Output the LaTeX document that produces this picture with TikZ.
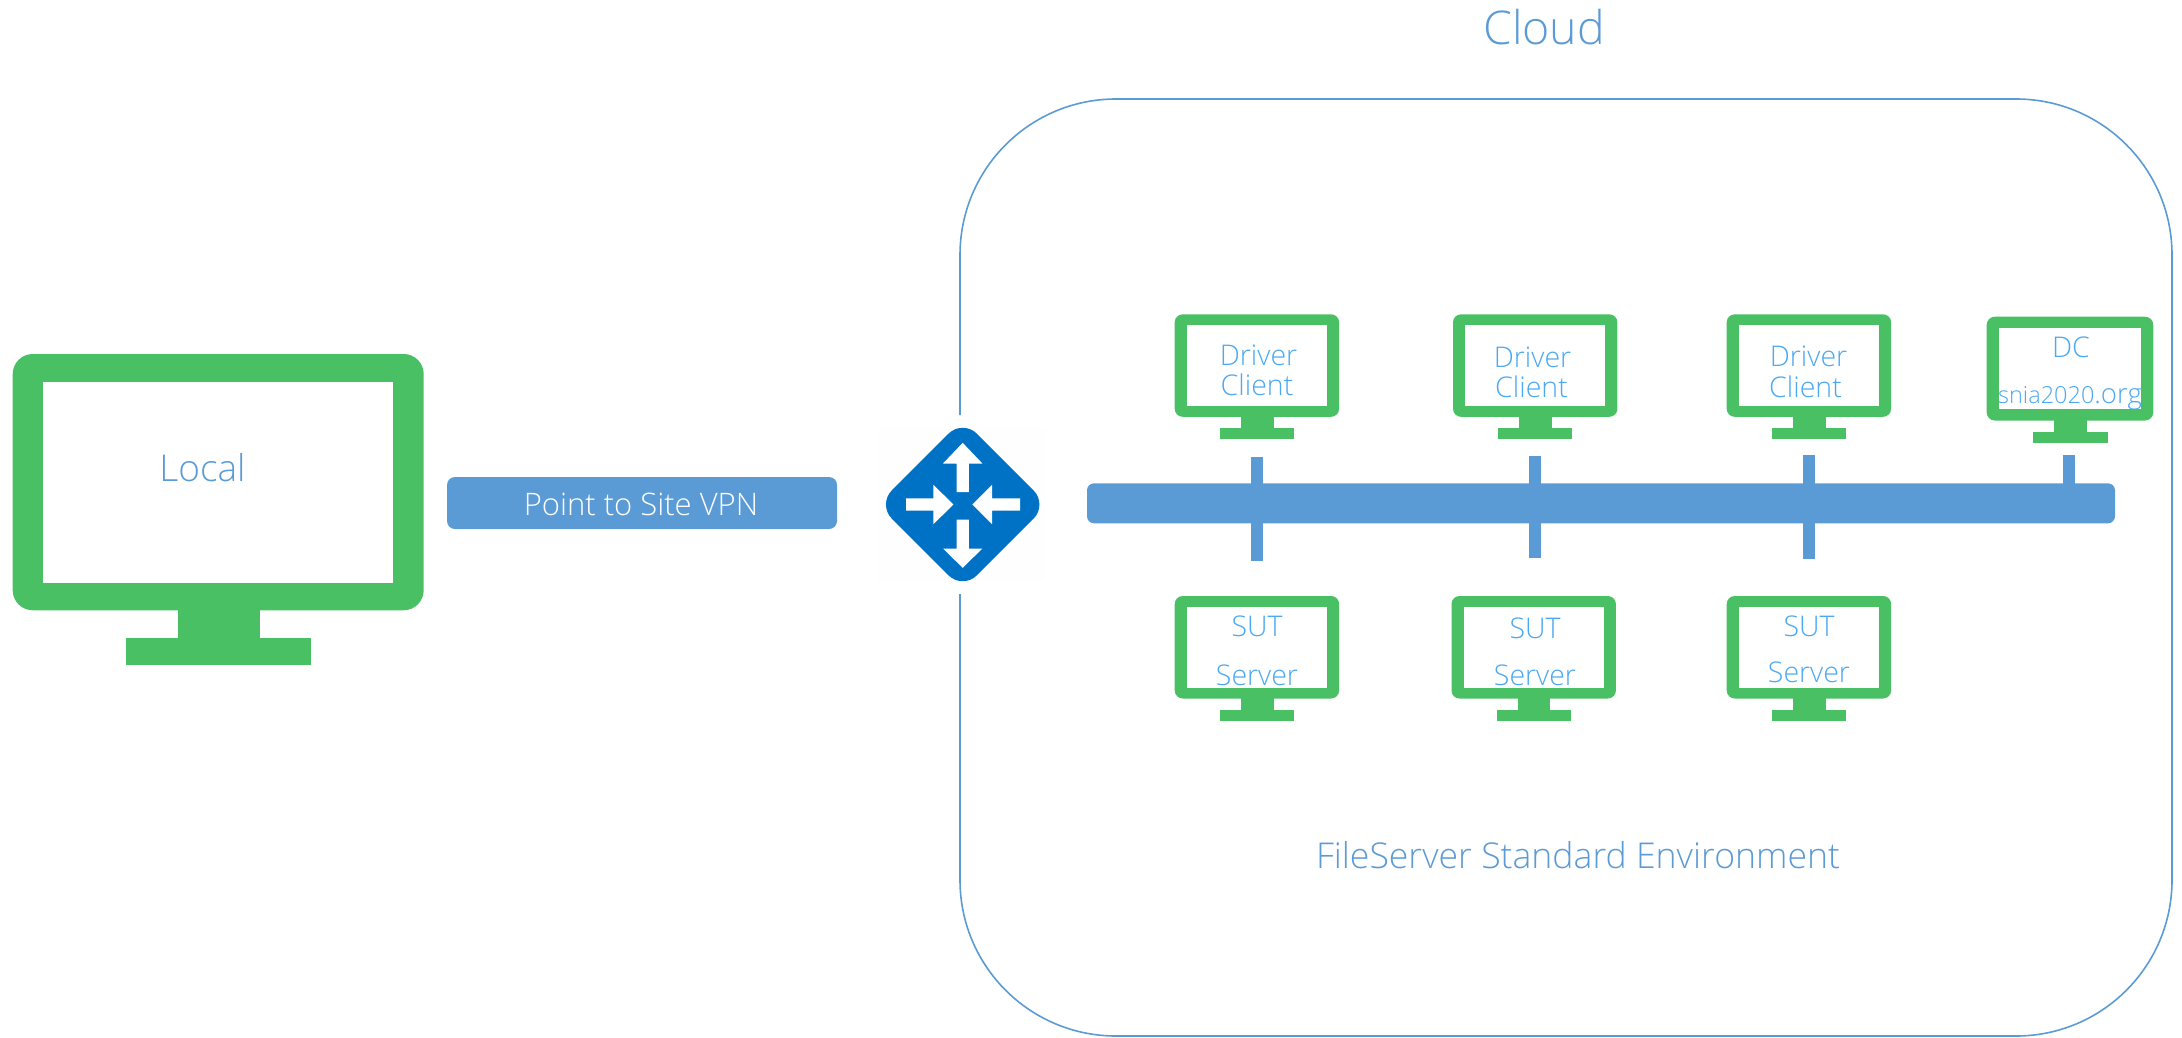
\documentclass[tikz,border=0pt]{standalone}
\usepackage{fontspec}
\setmainfont{Open Sans Light}
\definecolor{mongreen}{HTML}{4AC065}
\definecolor{azure}{HTML}{5B9BD5}
\definecolor{router}{HTML}{0072C6}
\definecolor{smalltxt}{HTML}{4CA8F0}
\tikzset{
  x=1pt,y=-1pt,
  bigtxt/.style={text=azure,anchor=base,inner sep=0pt,font=\fontsize{37}{37}\selectfont},
  labeltxt/.style={text=smalltxt,anchor=base,inner sep=0pt,font=\fontsize{28.5}{29}\selectfont},
  tickbar/.style={draw=azure,line width=12pt},
  busbar/.style={fill=azure,rounded corners=7pt},
  cloudline/.style={draw=azure,line width=1.6pt},
  arrowwhite/.style={fill=white},
}
\newcommand{\monitor}[3]{%
  \begin{scope}[shift={(#1,#2)},scale=#3,x=1pt,y=-1pt]
    \fill[mongreen,rounded corners=8pt*#3]
      (0,0) -- (164.4,0) -- (164.4,102.5) -- (0,102.5) -- cycle;
    \fill[white] (12.3,11) rectangle (152,91.5);
    \fill[mongreen] (66,102) rectangle (98.8,114);
    \fill[mongreen] (45.3,113.5) rectangle (119.3,124.5);
  \end{scope}}
\begin{document}
\begin{tikzpicture}
\useasboundingbox (0,0) rectangle (2182,1037);
% cloud outline
\coordinate (gapTop) at (960,415);
\coordinate (gapBot) at (960,594);
\draw[cloudline,rounded corners=156pt] (gapTop) -- (960,99) -- (2172,99) -- (2172,1036) -- (960,1036) -- (gapBot);
\node[bigtxt,font=\fontsize{46.5}{46}\selectfont] (cloud) at (1544,44) {Cloud};
\node[bigtxt,font=\fontsize{35.6}{36}\selectfont] (fsenv) at (1578,868) {FileServer Standard Environment};
% local
\monitor{12.7}{354}{2.5}
\node[bigtxt] (local) at (202.5,481) {Local};
% vpn
\node[fill=azure,rounded corners=8pt,minimum width=390pt,minimum height=52pt,inner sep=0pt] (vpn) at (642,503) {};
\node[text=white,inner sep=0pt,anchor=base,font=\fontsize{31}{31}\selectfont] (vpntxt) at (641,515) {Point to Site VPN};
% router
\fill[fill=white!99.5!black] (877,428) rectangle (1045,581);
\begin{scope}[shift={(962.7,504.5)}]
  \coordinate (rc) at (0,0);
  \fill[router,rounded corners=20pt] (0,-85) -- (85,0) -- (0,85) -- (-85,0) -- cycle;
  \fill[arrowwhite] (0,-61.7) -- (19.7,-41) -- (6.2,-41) -- (6.2,-12.3) -- (-6.2,-12.3) -- (-6.2,-41) -- (-19.7,-41) -- cycle;
  \fill[arrowwhite] (0,63.3) -- (19.7,44) -- (6.2,44) -- (6.2,15) -- (-6.2,15) -- (-6.2,44) -- (-19.7,44) -- cycle;
  \fill[arrowwhite] (-9.3,0) -- (-29.3,-19.7) -- (-29.3,-6.2) -- (-56.7,-6.2) -- (-56.7,6.2) -- (-29.3,6.2) -- (-29.3,19.7) -- cycle;
  \fill[arrowwhite] (9.7,0) -- (29.3,-19.7) -- (29.3,-6.2) -- (57.3,-6.2) -- (57.3,6.2) -- (29.3,6.2) -- (29.3,19.7) -- cycle;
\end{scope}
% bus
\node[busbar,minimum width=1028pt,minimum height=40pt,inner sep=0pt] (bus) at (1601,503.3) {};
\coordinate (t1a) at (1257,457); \coordinate (t1b) at (1257,561);
\coordinate (t2a) at (1535,456); \coordinate (t2b) at (1535,558);
\coordinate (t3a) at (1809,455); \coordinate (t3b) at (1809,558.7);
\coordinate (t4a) at (2069,455); \coordinate (t4b) at (2069,484);
\draw[tickbar] (t1a) -- (t1b);
\draw[tickbar] (t2a) -- (t2b);
\draw[tickbar] (t3a) -- (t3b);
\draw[tickbar] (t4a) -- (t4b);
% monitors
\monitor{1174.7}{314.3}{1}
\monitor{1453}{314.3}{1}
\monitor{1726.7}{314.3}{1}
\monitor{1986.7}{316.7}{1.013}
\monitor{1174.7}{596}{1}
\monitor{1451.5}{596}{1}
\monitor{1726.7}{596}{1}
\node[labeltxt] (d1a) at (1258.5,365) {Driver};
\node[labeltxt] (d1b) at (1257,395) {Client};
\node[labeltxt] (d2a) at (1532.5,367) {Driver};
\node[labeltxt] (d2b) at (1531.5,397) {Client};
\node[labeltxt] (d3a) at (1808.5,366) {Driver};
\node[labeltxt] (d3b) at (1805.5,397) {Client};
\node[labeltxt] (dc) at (2071,357) {DC};
\node[labeltxt,font=\fontsize{23.5}{27}\selectfont] (org) at (2070,403) {snia2020{\fontsize{27.5}{28}\selectfont.org}};
\node[labeltxt] (s1a) at (1257,636.5) {SUT};
\node[labeltxt] (s1b) at (1257,685) {Server};
\node[labeltxt] (s2a) at (1535,638.5) {SUT};
\node[labeltxt] (s2b) at (1535,685) {Server};
\node[labeltxt] (s3a) at (1809,636.5) {SUT};
\node[labeltxt] (s3b) at (1809,682) {Server};
\end{tikzpicture}
\end{document}
